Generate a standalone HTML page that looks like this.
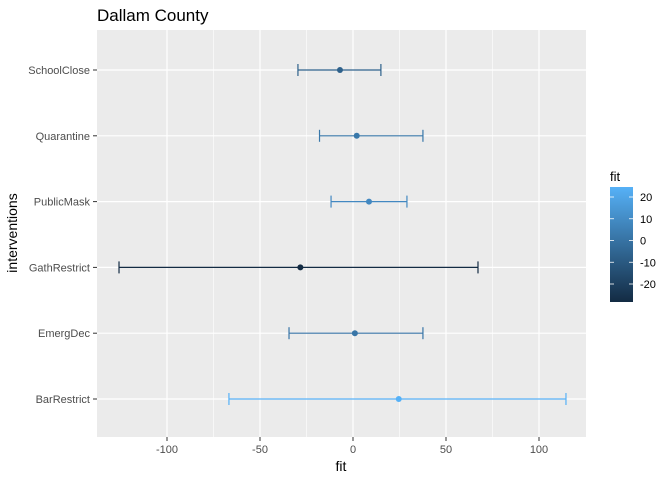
<!DOCTYPE html>
<html><head><meta charset="utf-8"><style>
body{margin:0;background:#fff;font-family:"Liberation Sans",sans-serif}
</style></head><body>
<svg id="chart" width="672" height="480" xmlns="http://www.w3.org/2000/svg" font-family="Liberation Sans, sans-serif">
<defs><linearGradient id="grad" x1="0" y1="1" x2="0" y2="0">
<stop offset="0" stop-color="#132B43"/><stop offset="1" stop-color="#56B1F7"/></linearGradient></defs>
<text x="97" y="21" font-size="17" fill="#000">Dallam County</text>
<rect x="97" y="30" width="489" height="407" fill="#EBEBEB"/>
<g id="grid"></g><g id="marks"></g><g id="axes"></g>
<text x="341" y="471" font-size="14" text-anchor="middle">fit</text>
<text transform="translate(17,233) rotate(-90)" font-size="14" text-anchor="middle">interventions</text>
<g>
<text x="610" y="181" font-size="13">fit</text>
<rect x="610" y="187" width="23" height="115" fill="url(#grad)"/>
<g id="legticks"></g>
</g>
</svg>
<script>
const categories=["SchoolClose","Quarantine","PublicMask","GathRestrict","EmergDec","BarRestrict"];
const fitValues=[-7,2,8.6,-28.3,1,24.6];
const lowValues=[-29.6,-18,-11.8,-125.8,-34.4,-66.7];
const highValues=[15,37.6,29,67.2,37.6,114.5];
const xTicks=[-100,-50,0,50,100];
const legendTicks=[20,10,0,-10,-20];
const NS="http://www.w3.org/2000/svg";
function xs(v){return 353+v*1.86;}
function ys(i){return 70+i*65.8;}
function ly(v){return 240.5-v*2.175;}
const cmin=-28.3,cmax=24.6;
function col(v){const t=Math.max(0,Math.min(1,(v-cmin)/(cmax-cmin)));
const a=[0x13,0x2B,0x43],b=[0x56,0xB1,0xF7];
return "rgb("+a.map((x,i)=>Math.round(x+(b[i]-x)*t)).join(",")+")";}
function mk(tag,attrs,parent,txt){const e=document.createElementNS(NS,tag);for(const k in attrs)e.setAttribute(k,attrs[k]);if(txt!==undefined)e.textContent=txt;parent.appendChild(e);return e;}
const grid=document.getElementById("grid"),marks=document.getElementById("marks"),axes=document.getElementById("axes"),leg=document.getElementById("legticks");
for(let i=0;i<xTicks.length-1;i++){const m=(xTicks[i]+xTicks[i+1])/2;
const g=mk("line",{x1:xs(m),x2:xs(m),y1:30,y2:437,stroke:"#fff","stroke-width":0.6},grid);

}
xTicks.forEach(v=>{const g=mk("line",{x1:xs(v),x2:xs(v),y1:30,y2:437,stroke:"#fff","stroke-width":1.2},grid);


const tk=mk("line",{x1:xs(v),x2:xs(v),y1:437,y2:441,stroke:"#333"},axes);


const t=mk("text",{x:xs(v),y:453,"font-size":11,fill:"#4D4D4D","text-anchor":"middle"},axes,v);

});
categories.forEach((c,i)=>{const y=ys(i);
const g=mk("line",{x1:97,x2:586,y1:y,y2:y,stroke:"#fff","stroke-width":1.2},grid);


const tk=mk("line",{x1:93,x2:97,y1:y,y2:y,stroke:"#333"},axes);


const t=mk("text",{x:90,y:y+4,"font-size":11,fill:"#4D4D4D","text-anchor":"end"},axes,c);


const cc=col(fitValues[i]);
const gr=mk("g",{stroke:cc,"stroke-width":1.2},marks);


mk("line",{x1:xs(lowValues[i]),x2:xs(highValues[i]),y1:y,y2:y},gr);
mk("line",{x1:xs(lowValues[i]),x2:xs(lowValues[i]),y1:y-6,y2:y+6},gr);
mk("line",{x1:xs(highValues[i]),x2:xs(highValues[i]),y1:y-6,y2:y+6},gr);
const p=mk("circle",{cx:xs(fitValues[i]),cy:y,r:3,fill:cc},marks);

});
legendTicks.forEach(v=>{const y=ly(v);
mk("line",{x1:610,x2:614,y1:y,y2:y,stroke:"#fff","stroke-width":0.8},leg);
mk("line",{x1:629,x2:633,y1:y,y2:y,stroke:"#fff","stroke-width":0.8},leg);
const t=mk("text",{x:640,y:y+4,"font-size":11,fill:"#000"},leg,v);

});
</script>
</body></html>
